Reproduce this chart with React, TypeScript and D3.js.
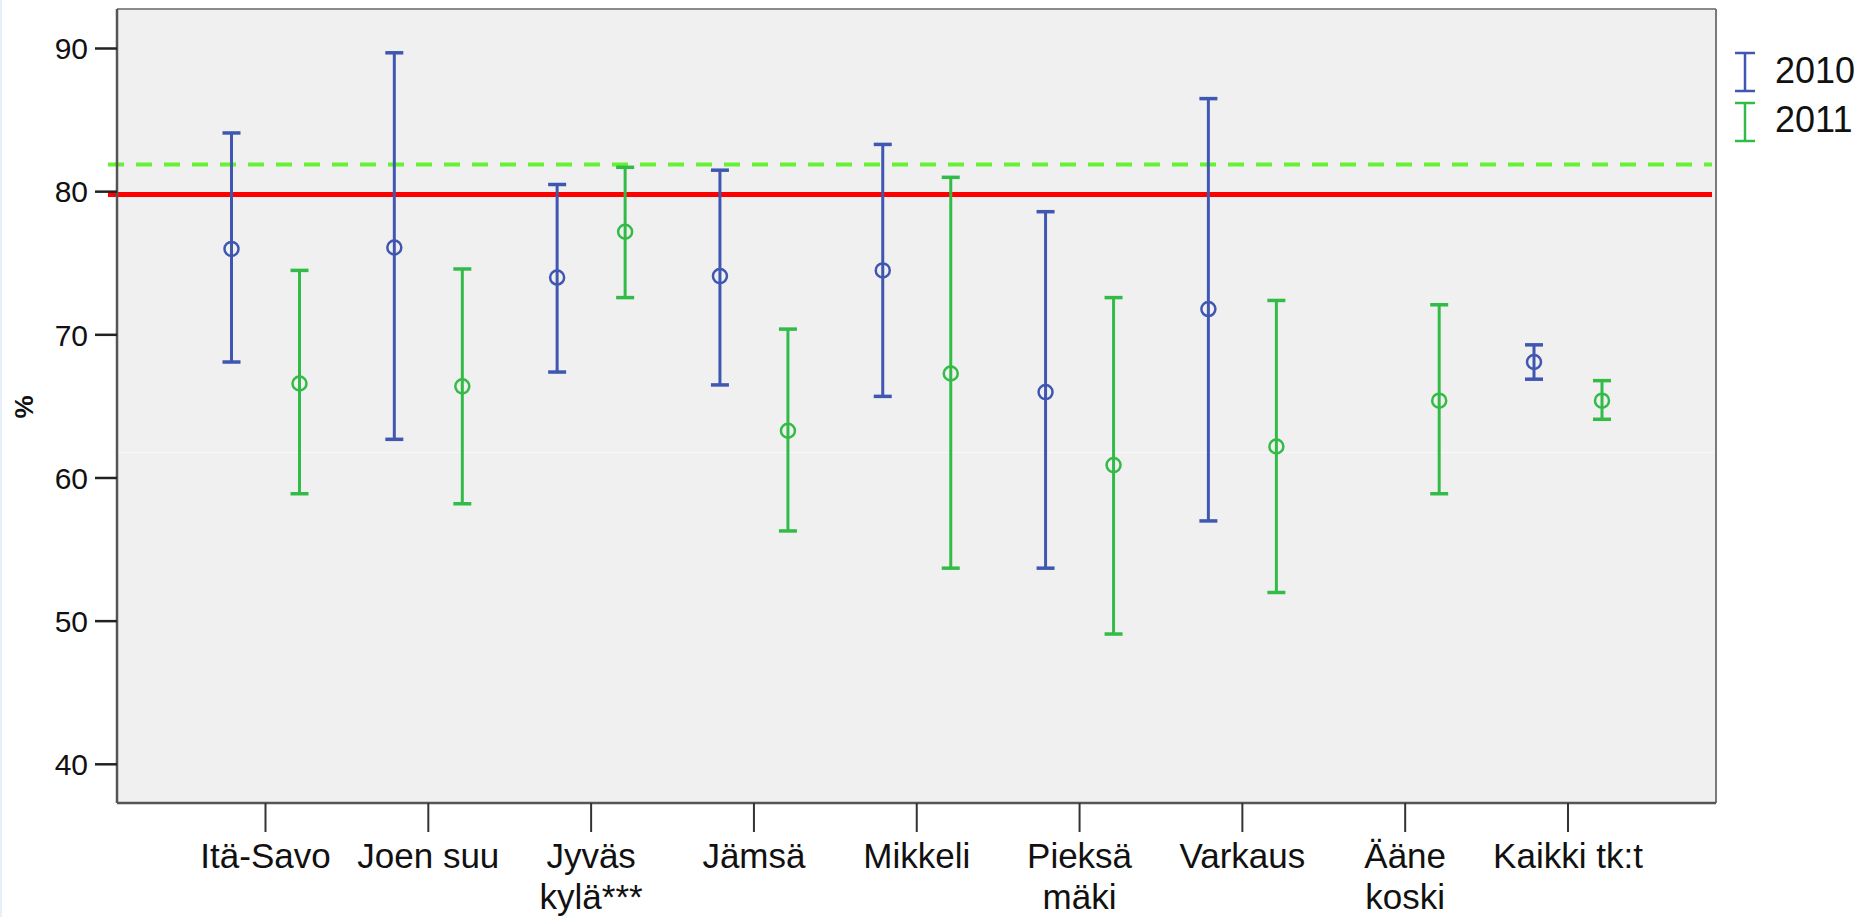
import React from "react";
import * as d3 from "d3";

// ---- data ----
const categories: string[][] = [
  ["Itä-Savo"],
  ["Joen suu"],
  ["Jyväs", "kylä***"],
  ["Jämsä"],
  ["Mikkeli"],
  ["Pieksä", "mäki"],
  ["Varkaus"],
  ["Ääne", "koski"],
  ["Kaikki tk:t"],
];
const series = ["2010", "2011"];
// mean, lower, upper (null = no value)
const mean2010: (number | null)[] = [76.0, 76.1, 74.0, 74.1, 74.5, 66.0, 71.8, null, 68.1];
const low2010: (number | null)[] = [68.1, 62.7, 67.4, 66.5, 65.7, 53.7, 57.0, null, 66.9];
const high2010: (number | null)[] = [84.1, 89.7, 80.5, 81.5, 83.3, 78.6, 86.5, null, 69.3];
const mean2011: number[] = [66.6, 66.4, 77.2, 63.3, 67.3, 60.9, 62.2, 65.4, 65.4];
const low2011: number[] = [58.9, 58.2, 72.6, 56.3, 53.7, 49.1, 52.0, 58.9, 64.1];
const high2011: number[] = [74.5, 74.6, 81.7, 70.4, 81.0, 72.6, 72.4, 72.1, 66.8];
const yTicks = [40, 50, 60, 70, 80, 90];
const redRef = 79.8;
const greenRef = 81.9;
const artifactLine = 61.8;

const BLUE = "#3f57b0";
const GREEN = "#33bb48";
const FONT = "'Liberation Sans', Arial, sans-serif";

export default function App() {
  const W = 1874, H = 917;
  const left = 117, right = 1716, top = 9, bottom = 803;
  const keys = categories.map((_, i) => String(i));
  const x = d3.scalePoint<string>().domain(keys).range([265.5, 1568]);
  const y = d3.scaleLinear().domain([40, 90]).range([764.3, 48.5]);
  const off = 34;
  const capW = 18;

  const seriesData = [
    { name: series[0], color: BLUE, dx: -off, mean: mean2010, low: low2010, high: high2010 },
    { name: series[1], color: GREEN, dx: off, mean: mean2011, low: low2011, high: high2011 },
  ];

  return (
    <svg
      width={W}
      height={H}
      style={{ position: "absolute", left: 0, top: 0, background: "#fff" }}
      fontFamily={FONT}
    >
      <rect x={0} y={0} width={W} height={H} fill="#fff" />
      <rect x={0} y={0} width={2} height={H} fill="#e4f1fb" />
      {/* plot background */}
      <rect x={left} y={top} width={right - left} height={bottom - top} fill="#f0f0f0" />
      <line x1={left} x2={right} y1={Math.round(y(artifactLine)) + 0.5} y2={Math.round(y(artifactLine)) + 0.5} stroke="#f9f9f9" strokeWidth={1} />

      {/* reference lines */}
      <line x1={108} x2={1712} y1={y(greenRef)} y2={y(greenRef)} stroke="#66f233" strokeWidth={4} strokeDasharray="16 12" />
      <line x1={108} x2={1712} y1={y(redRef)} y2={y(redRef)} stroke="#ff0000" strokeWidth={5} />

      {/* error bars */}
      {seriesData.map((s) =>
        keys.map((k, i) => {
          const m = s.mean[i];
          const lo = s.low[i];
          const hi = s.high[i];
          if (m == null || lo == null || hi == null) return null;
          const cx = (x(k) as number) + s.dx;
          return (
            <g key={s.name + k} stroke={s.color} fill="none">
              <line x1={cx} x2={cx} y1={y(hi)} y2={y(lo)} strokeWidth={3} />
              <line x1={cx - capW / 2} x2={cx + capW / 2} y1={y(hi)} y2={y(hi)} strokeWidth={3.5} />
              <line x1={cx - capW / 2} x2={cx + capW / 2} y1={y(lo)} y2={y(lo)} strokeWidth={3.5} />
              <circle cx={cx} cy={y(m)} r={7} strokeWidth={2.5} />
            </g>
          );
        })
      )}

      {/* frame */}
      <line x1={left} x2={right} y1={top} y2={top} stroke="#8a8a8a" strokeWidth={2} />
      <line x1={right} x2={right} y1={top} y2={bottom} stroke="#7a7a7a" strokeWidth={2} />
      <line x1={left} x2={left} y1={top} y2={bottom} stroke="#555" strokeWidth={2.5} />
      <line x1={left} x2={right} y1={bottom} y2={bottom} stroke="#555" strokeWidth={2.5} />

      {/* y axis */}
      {yTicks.map((t) => (
        <g key={t}>
          <line x1={95} x2={left} y1={y(t)} y2={y(t)} stroke="#222" strokeWidth={2.5} />
          <text x={88} y={y(t)} dy="0.36em" textAnchor="end" fontSize={30} fill="#111">
            {t}
          </text>
        </g>
      ))}
      <text
        transform={`translate(33, 407) rotate(-90)`}
        textAnchor="middle"
        fontSize={26}
        fontWeight="bold"
        fill="#111"
      >
        %
      </text>

      {/* x axis */}
      {keys.map((k, i) => (
        <g key={k}>
          <line x1={x(k)} x2={x(k)} y1={bottom} y2={832} stroke="#333" strokeWidth={2} />
          {categories[i].map((line, j) => (
            <text key={j} x={x(k)} y={868 + j * 41} textAnchor="middle" fontSize={35} fill="#111">
              {line}
            </text>
          ))}
        </g>
      ))}

      {/* legend */}
      {seriesData.map((s, i) => {
        const y0 = 53 + i * 50;
        const y1 = y0 + 38;
        const cx = 1745;
        return (
          <g key={s.name}>
            <g stroke={s.color} strokeWidth={2.5}>
              <line x1={cx} x2={cx} y1={y0} y2={y1} />
              <line x1={cx - 10} x2={cx + 10} y1={y0} y2={y0} />
              <line x1={cx - 10} x2={cx + 10} y1={y1} y2={y1} />
            </g>
            <text x={1775} y={83 + i * 49} fontSize={36} fill="#111">
              {s.name}
            </text>
          </g>
        );
      })}
    </svg>
  );
}
